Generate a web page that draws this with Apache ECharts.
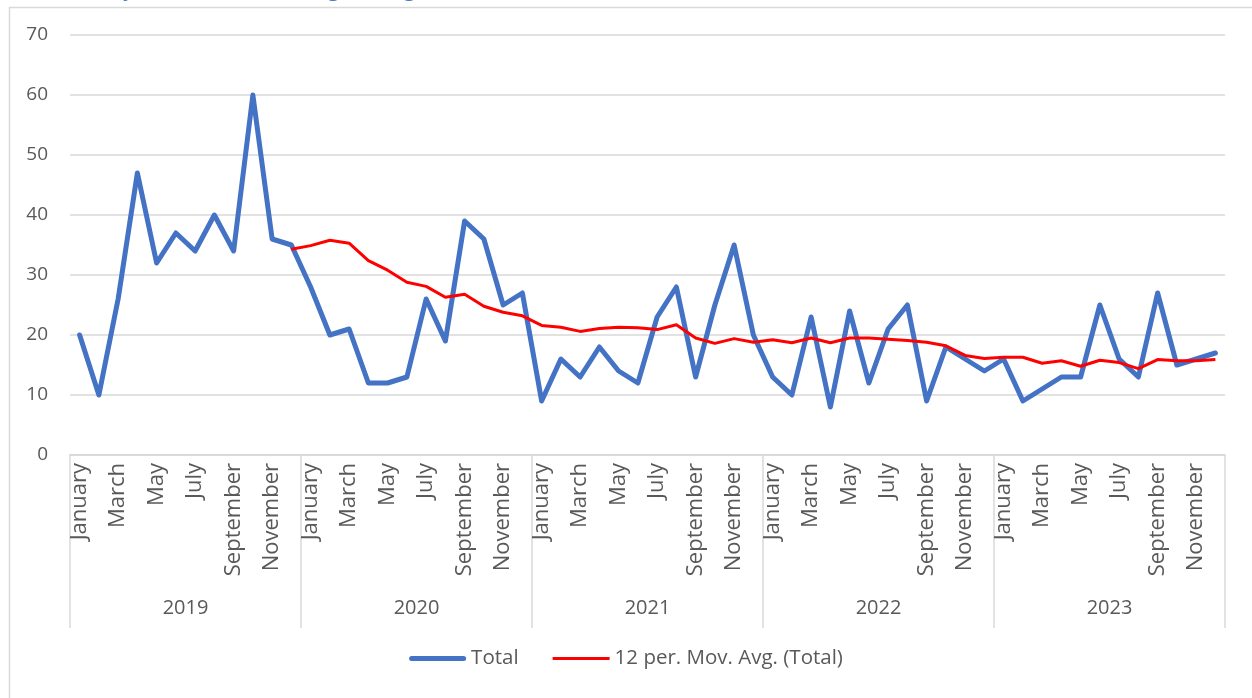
<!DOCTYPE html>
<html>
<head>
<meta charset="utf-8">
<title>Total and 12 per. moving average</title>
<script src="https://cdn.jsdelivr.net/npm/echarts@6/dist/echarts.min.js"></script>
<style>
    html, body { margin: 0; padding: 0; background: #fff; }
    #chart { width: 1252px; height: 698px; }
</style>
</head>
<body>
<div id="chart"></div>
<script>
// categories
const years  = ['2019', '2020', '2021', '2022', '2023']
const months = ['January', 'February', 'March', 'April', 'May', 'June',
                'July', 'August', 'September', 'October', 'November', 'December']

// monthly totals (Jan 2019 .. Dec 2023)
const total2019 = [20, 10, 26, 47, 32, 37, 34, 40, 34, 60, 36, 35]
const total2020 = [28, 20, 21, 12, 12, 13, 26, 19, 39, 36, 25, 27]
const total2021 = [9, 16, 13, 18, 14, 12, 23, 28, 13, 25, 35, 20]
const total2022 = [13, 10, 23, 8, 24, 12, 21, 25, 9, 18, 16, 14]
const total2023 = [16, 9, 11, 13, 13, 25, 16, 13, 27, 15, 16, 17]

// red trend line (12 per. moving avg); starts at Dec 2019
const movAvg2019 = [null, null, null, null, null, null, null, null, null, null, null, 34.3]
const movAvg2020 = [34.9, 35.8, 35.3, 32.4, 30.8, 28.8, 28.1, 26.3, 26.8, 24.8, 23.8, 23.2]
const movAvg2021 = [21.6, 21.3, 20.6, 21.1, 21.3, 21.2, 20.9, 21.7, 19.5, 18.6, 19.4, 18.8]
const movAvg2022 = [19.2, 18.7, 19.5, 18.7, 19.5, 19.5, 19.3, 19.1, 18.8, 18.2, 16.6, 16.1]
const movAvg2023 = [16.3, 16.3, 15.3, 15.7, 14.8, 15.8, 15.4, 14.4, 15.9, 15.7, 15.7, 15.9]

// y axis ticks
const yMin = 0
const yMax = 70
const yStep = 10

const monthCats = years.flatMap(y => months.map(m => m + ' ' + y))
const totals = [...total2019, ...total2020, ...total2021, ...total2022, ...total2023]
const movAvg = [...movAvg2019, ...movAvg2020, ...movAvg2021, ...movAvg2022, ...movAvg2023]

const FONT = 'Open Sans, Lato, sans-serif'
const GREY_TEXT = '#595959'
const GREY_LINE = '#d9d9d9'
const BLUE = '#4472c4'
const RED = '#ff0000'

const chart = echarts.init(document.getElementById('chart'))

chart.setOption({
    animation: false,
    textStyle: { fontFamily: FONT },
    graphic: [
        // outer chart frame
        {
            type: 'rect', left: 7, top: 5, silent: true,
            shape: { width: 1260, height: 720 },
            style: { fill: 'none', stroke: GREY_LINE, lineWidth: 1.5 },
            z: -1,
        },
        // title sits above the picture, only its descenders show
        {
            type: 'text', left: 50, top: -21.5, silent: true,
            style: {
                text: 'Monthly Total with a Moving Average',
                fill: BLUE, font: '22px ' + FONT,
            },
        },
    ],
    grid: { left: 70, right: 27, top: 35, bottom: 243 },
    legend: {
        bottom: 24,
        left: 'center',
        itemWidth: 57,
        itemHeight: 14,
        itemGap: 34,
        textStyle: { color: GREY_TEXT, fontSize: 20.5, fontFamily: FONT },
        data: [
            { name: 'Total', icon: 'path://M2.5,0h52a2.5,2.5,0,0,1,0,5h-52a2.5,2.5,0,0,1,0,-5z' },
            { name: '12 per. Mov. Avg. (Total)', icon: 'path://M0,0h57v3h-57z' },
        ],
    },
    xAxis: [
        {
            type: 'category',
            data: monthCats,
            boundaryGap: true,
            axisLine: { lineStyle: { color: GREY_LINE, width: 1.5 } },
            axisTick: { show: false },
            axisLabel: {
                interval: 1,
                rotate: 90,
                margin: 8,
                color: GREY_TEXT,
                fontSize: 22,
                fontFamily: FONT,
                formatter: v => v.split(' ')[0],
            },
            splitLine: { show: false },
        },
        {
            type: 'category',
            data: years,
            position: 'bottom',
            boundaryGap: true,
            axisLine: { lineStyle: { color: GREY_LINE, width: 1.5 } },
            axisTick: { show: true, length: 173, lineStyle: { color: GREY_LINE, width: 1.5 } },
            axisLabel: { margin: 143, color: GREY_TEXT, fontSize: 20, fontFamily: FONT },
        },
    ],
    yAxis: {
        type: 'value',
        min: yMin,
        max: yMax,
        interval: yStep,
        axisLine: { show: false },
        axisTick: { show: false },
        axisLabel: { margin: 22, color: GREY_TEXT, fontSize: 19, fontFamily: FONT },
        splitLine: { lineStyle: { color: GREY_LINE, width: 1.5 } },
    },
    series: [
        {
            name: 'Total',
            type: 'line',
            data: totals,
            symbol: 'none',
            lineStyle: { color: BLUE, width: 5, cap: 'round', join: 'round' },
            itemStyle: { color: BLUE },
            z: 2,
        },
        {
            name: '12 per. Mov. Avg. (Total)',
            type: 'line',
            data: movAvg,
            symbol: 'none',
            connectNulls: false,
            lineStyle: { color: RED, width: 3, join: 'round' },
            itemStyle: { color: RED },
            z: 3,
        },
    ],
})
</script>
</body>
</html>
